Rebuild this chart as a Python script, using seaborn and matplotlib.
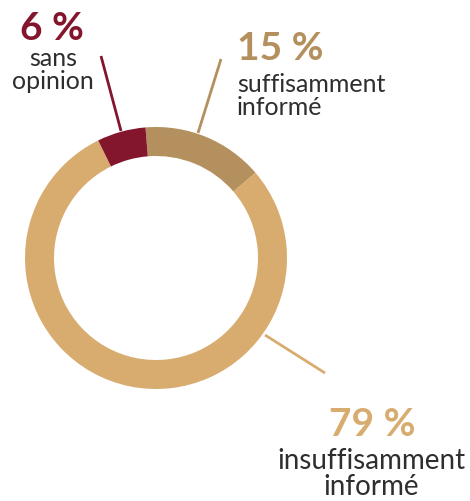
import matplotlib
matplotlib.use("Agg")
import matplotlib.pyplot as plt
import seaborn as sns
import numpy as np

# Data
categories = ["suffisamment\ninformé", "insuffisamment\ninformé", "sans\nopinion"]
values = [15, 79, 6]
pct_labels = ["15 %", "79 %", "6 %"]
colors = ["#b3905d", "#d8ac6f", "#83162d"]

sns.set_theme(style="white")
plt.rcParams["font.family"] = ["Lato", "DejaVu Sans"]

W, H = 470, 501
fig = plt.figure(figsize=(W / 100, H / 100), dpi=100)
ax = fig.add_axes([0, 0, 1, 1])
ax.set_xlim(0, W)
ax.set_ylim(0, H)
ax.set_aspect("equal")
ax.axis("off")

cx, cy, R = 156, H - 258, 131
ax.pie(values, colors=colors, startangle=94.6, counterclock=False,
       center=(cx, cy), radius=R, frame=False,
       wedgeprops=dict(width=29, linewidth=0))
ax.set_xlim(0, W)
ax.set_ylim(0, H)

def yy(py):
    return H - py

# leader lines
ax.plot([101, 121], [yy(56), yy(131)], color=colors[2], lw=2, solid_capstyle="butt")
ax.plot([221, 198], [yy(59), yy(133)], color=colors[0], lw=2, solid_capstyle="butt")
ax.plot([265, 325], [yy(335), yy(373)], color=colors[1], lw=2, solid_capstyle="butt")

txt = "#2e2e2e"
# 6 % sans opinion
ax.text(52, yy(28), pct_labels[2], color=colors[2], fontsize=28, fontweight="bold",
        ha="center", va="center")
ax.text(53, yy(70), categories[2], color=txt, fontsize=18, fontweight="normal",
        ha="center", va="center", linespacing=1.05)
# 15 %
ax.text(237, yy(48), pct_labels[0], color=colors[0], fontsize=28, fontweight="bold",
        ha="left", va="center")
ax.text(237, yy(96), categories[0], color=txt, fontsize=18, fontweight="normal",
        ha="left", va="center", linespacing=1.05)
# 79 %
ax.text(372, yy(424), pct_labels[1], color=colors[1], fontsize=28, fontweight="bold",
        ha="center", va="center")
ax.text(371, yy(474), categories[1], color=txt, fontsize=20, fontweight="normal",
        ha="center", va="center", linespacing=1.0)

fig.savefig("out.png", dpi=100)
